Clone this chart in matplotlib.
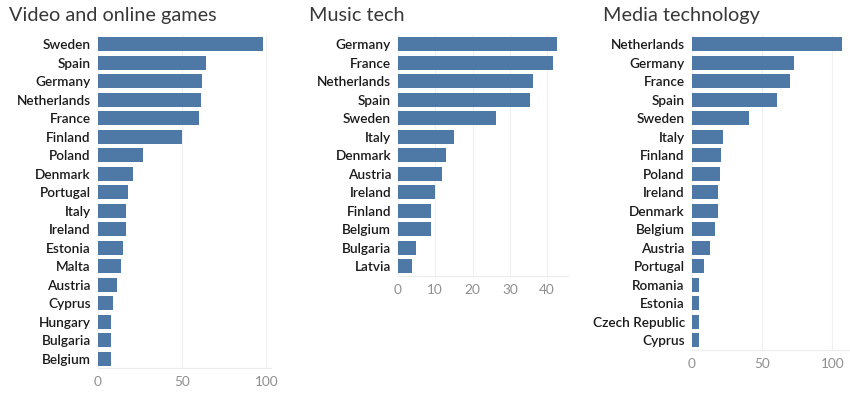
import matplotlib
matplotlib.use("Agg")
import matplotlib.pyplot as plt

# Video and online games
games_countries = ["Sweden", "Spain", "Germany", "Netherlands", "France", "Finland",
                   "Poland", "Denmark", "Portugal", "Italy", "Ireland", "Estonia",
                   "Malta", "Austria", "Cyprus", "Hungary", "Bulgaria", "Belgium"]
games_values = [98, 64, 62, 61, 60, 50, 27, 21, 18, 16.5, 16.5, 15, 14, 11.5, 9, 8, 8, 8]
games_ticks = [0, 50, 100]

# Music tech
music_countries = ["Germany", "France", "Netherlands", "Spain", "Sweden", "Italy",
                   "Denmark", "Austria", "Ireland", "Finland", "Belgium", "Bulgaria", "Latvia"]
music_values = [42.5, 41.5, 36.3, 35.3, 26.2, 15, 12.8, 11.8, 9.8, 8.8, 8.8, 4.9, 3.7]
music_ticks = [0, 10, 20, 30, 40]

# Media technology
media_countries = ["Netherlands", "Germany", "France", "Spain", "Sweden", "Italy",
                   "Finland", "Poland", "Ireland", "Denmark", "Belgium", "Austria",
                   "Portugal", "Romania", "Estonia", "Czech Republic", "Cyprus"]
media_values = [107, 73, 70, 61, 41, 22.5, 21, 20, 18.6, 18.6, 16.8, 13.3, 9, 5.4, 5.4, 5.4, 5.4]
media_ticks = [0, 50, 100]

BAR = "#4e79a7"
ROW_PX = 18.5
W, H = 850, 397

fig = plt.figure(figsize=(W / 100, H / 100), dpi=100)

panels = [
    ("Video and online games", games_countries, games_values, games_ticks, 97.7, 173, 102.5, 9),
    ("Music tech", music_countries, music_values, music_ticks, 398, 169.7, 45.5, 309),
    ("Media technology", media_countries, media_values, media_ticks, 691.7, 157, 111.7, 603),
]

for title, names, vals, ticks, left_px, width_px, xmax, title_px in panels:
    n = len(names)
    top_px = 35
    h_px = n * ROW_PX
    ax = fig.add_axes([left_px / W, 1 - (top_px + h_px) / H, width_px / W, h_px / H])
    ax.barh(range(n), vals, height=0.76, color=BAR, zorder=3)
    ax.set_ylim(n - 0.5, -0.5)
    ax.set_xlim(0, xmax)
    ax.set_yticks(range(n))
    ax.set_yticklabels(names, fontsize=9.8, fontfamily="Lato", fontweight="semibold",
                       color="#1a1a1a")
    ax.set_xticks(ticks)
    ax.set_xticklabels([str(t) for t in ticks], fontsize=9.8, fontfamily="Lato",
                       color="#8f8f8f")
    ax.tick_params(axis="both", length=0)
    ax.tick_params(axis="y", pad=5)
    ax.tick_params(axis="x", pad=6)
    ax.grid(axis="x", color="#f0f0f0", linewidth=0.8, zorder=0)
    for side in ["top", "right", "left"]:
        ax.spines[side].set_visible(False)
    ax.spines["bottom"].set_color("#ececec")
    ax.spines["bottom"].set_linewidth(0.8)
    fig.text(title_px / W, 1 - 7 / H, title, fontsize=14.3, fontfamily="Lato",
             color="#383838", ha="left", va="top")

fig.savefig("out.png", dpi=100)
